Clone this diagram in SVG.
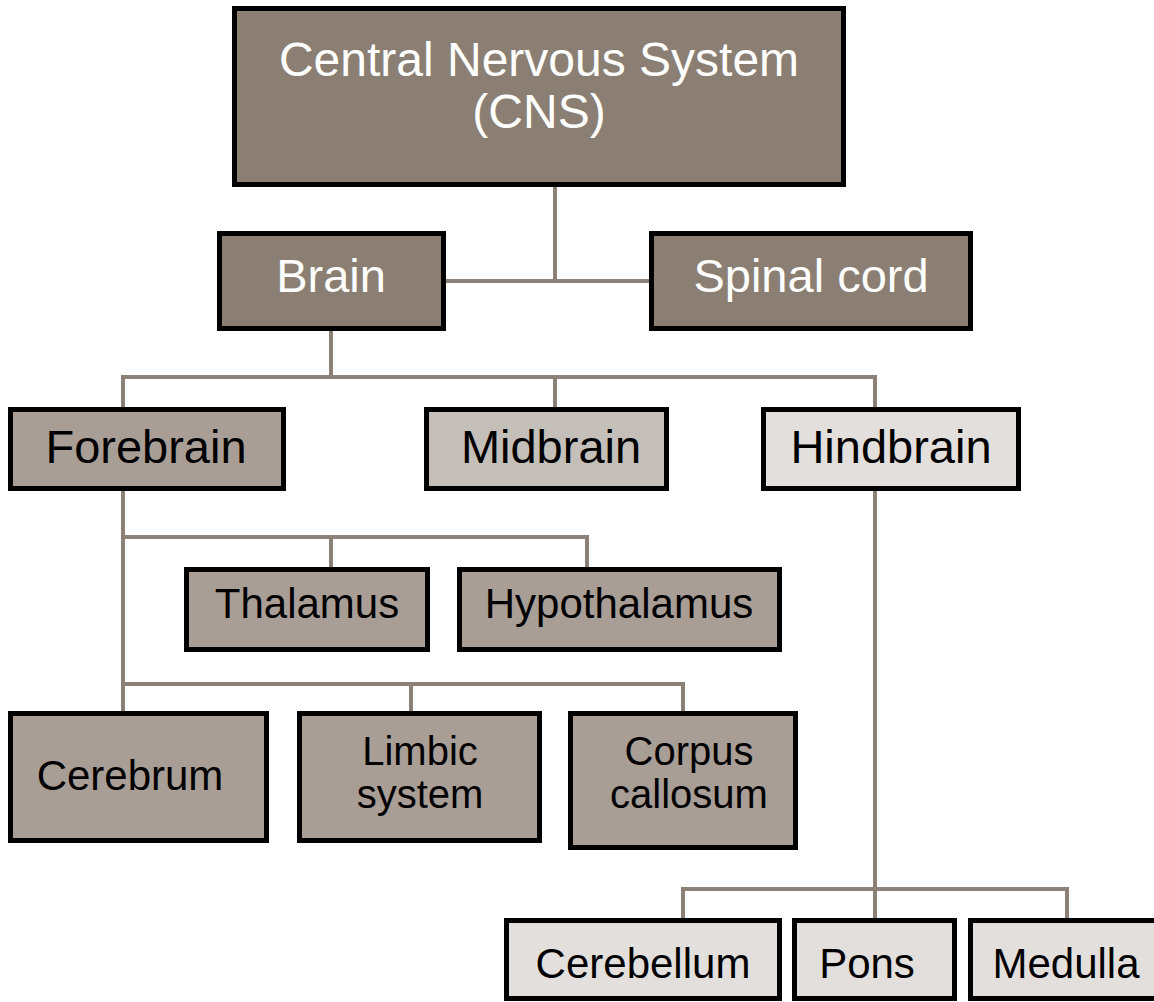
<svg xmlns="http://www.w3.org/2000/svg" width="1154" height="1002" viewBox="0 0 1154 1002">
<style>
.box{stroke:#000;stroke-width:5}
.d1{fill:#8b7f73}
.d2{fill:#a89e95}
.d3{fill:#c4bfb9}
.d4{fill:#e2dfdc}
.conn{fill:none;stroke:#8c8177;stroke-width:4;stroke-linejoin:miter;stroke-linecap:butt}
text{font-family:"Liberation Sans",Arial,sans-serif;text-anchor:middle}
.big{font-size:47px;fill:#fff}
.mid{font-size:47px;fill:#000}
.sm{font-size:42px;fill:#000}
.two{font-size:40px;fill:#000}
</style>
<rect width="1154" height="1002" fill="#fff"/>
<g id="connectors" class="conn">
<path d="M555 187V281M446 281H649"/>
<path d="M331 331V377M123 407V377H875V407M555 377V407"/>
<path d="M123 491V711M123 537H587V567M331 537V567"/>
<path d="M123 684H683V711M411 684V711"/>
<path d="M875 491V918M683 918V889H1067V918"/>
</g>
<g id="cns"><rect class="box d1" x="234.5" y="8.5" width="609" height="176"/>
<text class="big" x="539" y="76" style="font-size:48px">Central Nervous System</text>
<text class="big" x="539" y="128" style="font-size:48px">(CNS)</text></g>
<g id="brain"><rect class="box d1" x="219.5" y="233.5" width="224" height="95"/>
<text class="big" x="331" y="292">Brain</text></g>
<g id="spinal"><rect class="box d1" x="651.5" y="233.5" width="319" height="95"/>
<text class="big" x="811" y="292">Spinal cord</text></g>
<g id="forebrain"><rect class="box d2" x="10.5" y="409.5" width="273" height="79"/>
<text class="mid" x="146" y="463">Forebrain</text></g>
<g id="midbrain"><rect class="box d3" x="426.5" y="409.5" width="240" height="79"/>
<text class="mid" x="551" y="463">Midbrain</text></g>
<g id="hindbrain"><rect class="box d4" x="763.5" y="409.5" width="255" height="79"/>
<text class="mid" x="891" y="463">Hindbrain</text></g>
<g id="thalamus"><rect class="box d2" x="186.5" y="569.5" width="241" height="80"/>
<text class="sm" x="307" y="618">Thalamus</text></g>
<g id="hypothalamus"><rect class="box d2" x="459.5" y="569.5" width="320" height="80"/>
<text class="sm" x="619" y="618">Hypothalamus</text></g>
<g id="cerebrum"><rect class="box d2" x="10.5" y="713.5" width="256" height="127"/>
<text class="sm" x="130" y="790">Cerebrum</text></g>
<g id="limbic"><rect class="box d2" x="299.5" y="713.5" width="240" height="127"/>
<text class="two" x="420" y="765">Limbic</text>
<text class="two" x="420" y="808">system</text></g>
<g id="corpus"><rect class="box d2" x="570.5" y="713.5" width="225" height="134"/>
<text class="two" x="689" y="765">Corpus</text>
<text class="two" x="689" y="808">callosum</text></g>
<g id="cerebellum"><rect class="box d4" x="506.5" y="920.5" width="273" height="78"/>
<text class="sm" x="643" y="978">Cerebellum</text></g>
<g id="pons"><rect class="box d4" x="794.5" y="920.5" width="160" height="78"/>
<text class="sm" x="867" y="978">Pons</text></g>
<g id="medulla"><rect class="box d4" x="970.5" y="920.5" width="200" height="78"/>
<text class="sm" x="1066" y="978">Medulla</text></g>
</svg>
